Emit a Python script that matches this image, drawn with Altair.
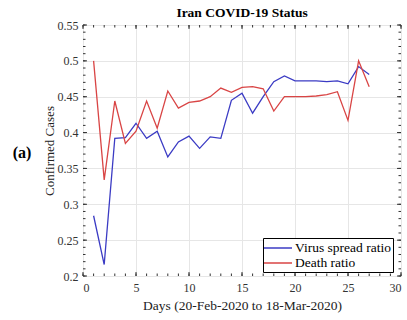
import altair as alt
import pandas as pd

days = list(range(1, 28))
virus = [0.284, 0.216, 0.392, 0.393, 0.413, 0.392, 0.402, 0.366, 0.387, 0.395,
         0.378, 0.394, 0.392, 0.445, 0.455, 0.427, 0.450, 0.471, 0.479, 0.472,
         0.472, 0.472, 0.471, 0.472, 0.468, 0.492, 0.481]
death = [0.500, 0.334, 0.444, 0.385, 0.402, 0.444, 0.406, 0.458, 0.434, 0.442,
         0.444, 0.450, 0.462, 0.456, 0.463, 0.464, 0.461, 0.430, 0.450, 0.450,
         0.450, 0.451, 0.453, 0.457, 0.417, 0.500, 0.464]
series_names = ["Virus spread ratio", "Death ratio"]
series_colors = ["#3b3bc4", "#d94545"]
x_major = [0, 5, 10, 15, 20, 25, 30]
x_minor = list(range(0, 31))
y_major = [0.2, 0.25, 0.3, 0.35, 0.4, 0.45, 0.5, 0.55]
y_minor = [round(0.2 + 0.01 * i, 2) for i in range(36)]
panel_label = ["(a)"]

W, H = 318, 251
SERIF = "Liberation Serif"

df = pd.DataFrame({
    "day": days * 2,
    "value": virus + death,
    "series": [series_names[0]] * len(days) + [series_names[1]] * len(days),
    "order": [0] * len(days) + [1] * len(days),
})

xs = alt.Scale(domain=[0, 30], nice=False, zero=False)
ys = alt.Scale(domain=[0.2, 0.55], nice=False, zero=False)

xaxis = alt.Axis(values=x_major, grid=True, gridColor="#e6e6e6", gridWidth=1,
                 domain=False, ticks=False, labelFont=SERIF, labelFontSize=12,
                 labelColor="#333333", labelPadding=6,
                 title="Days (20-Feb-2020 to 18-Mar-2020)", titleFont=SERIF,
                 titleFontSize=13.5, titleFontWeight="normal", titleColor="#222222",
                 titlePadding=5)
yaxis = alt.Axis(values=y_major, grid=True, gridColor="#e6e6e6", gridWidth=1,
                 domain=False, ticks=False, format=".2~f", labelFont=SERIF,
                 labelFontSize=12, labelColor="#333333", labelPadding=5,
                 title="Confirmed Cases", titleFont=SERIF, titleFontSize=13,
                 titleFontWeight="normal", titleColor="#222222", titlePadding=1)

lines = alt.Chart(df).mark_line(strokeWidth=1.3).encode(
    x=alt.X("day:Q", scale=xs, axis=xaxis),
    y=alt.Y("value:Q", scale=ys, axis=yaxis),
    color=alt.Color("series:N",
                    scale=alt.Scale(domain=series_names, range=series_colors),
                    sort=series_names,
                    legend=alt.Legend(orient="none", legendX=180, legendY=213,
                                      title=None, strokeColor="black",
                                      fillColor="white", padding=2,
                                      symbolType="M-2,0L2,0", symbolSize=196,
                                      symbolStrokeWidth=1.5, symbolOffset=5,
                                      labelFont=SERIF, labelFontSize=13.5,
                                      labelColor="black", rowPadding=0,
                                      labelOffset=9)),
    order="order:Q",
)

xmaj_df = pd.DataFrame({"x": x_major})
xmin_df = pd.DataFrame({"x": x_minor})
ymaj_df = pd.DataFrame({"y": y_major})
ymin_df = pd.DataFrame({"y": y_minor})

def xticks(d, ln):
    b = alt.Chart(d).mark_rule(color="#333333", strokeWidth=1).encode(
        x=alt.X("x:Q", scale=xs, axis=xaxis), y=alt.value(H), y2=alt.value(H - ln))
    t = alt.Chart(d).mark_rule(color="#333333", strokeWidth=1).encode(
        x=alt.X("x:Q", scale=xs, axis=xaxis), y=alt.value(0), y2=alt.value(ln))
    return b + t

def yticks(d, ln):
    l = alt.Chart(d).mark_rule(color="#333333", strokeWidth=1).encode(
        y=alt.Y("y:Q", scale=ys, axis=yaxis), x=alt.value(0), x2=alt.value(ln))
    r = alt.Chart(d).mark_rule(color="#333333", strokeWidth=1).encode(
        y=alt.Y("y:Q", scale=ys, axis=yaxis), x=alt.value(W), x2=alt.value(W - ln))
    return l + r

label = alt.Chart(pd.DataFrame({"t": panel_label})).mark_text(
    font=SERIF, fontSize=16, fontWeight="bold", color="black",
    align="center", baseline="middle").encode(
    text="t:N", x=alt.value(-61), y=alt.value(128))

chart = alt.layer(
    lines, xticks(xmin_df, 2.5), xticks(xmaj_df, 4), yticks(ymin_df, 2.5),
    yticks(ymaj_df, 4), label
).properties(
    width=W, height=H,
    title=alt.Title("Iran COVID-19 Status", font=SERIF, fontSize=13.5,
                    fontWeight="bold", color="black", anchor="middle", offset=0),
    autosize=alt.AutoSizeParams(type="none"),
    padding={"left": 83, "top": 25, "right": 6, "bottom": 44},
).configure_view(stroke="#222222", strokeWidth=1.2).configure(background="white")

chart.save("out.html", embed_options={"renderer": "svg", "actions": False})
